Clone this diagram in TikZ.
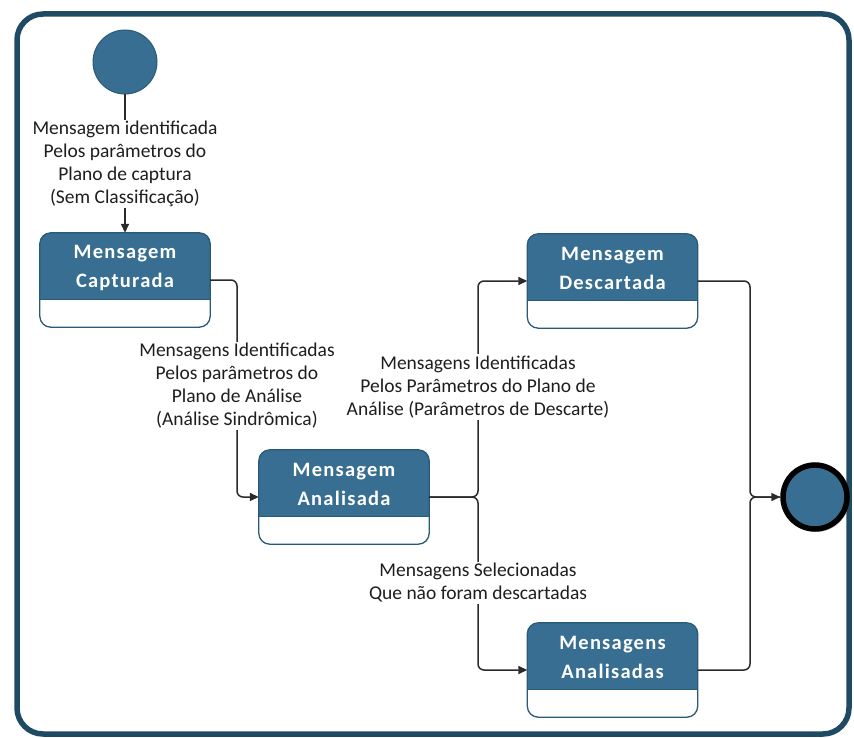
\documentclass[tikz,border=0pt]{standalone}
\usepackage{fontspec}
\setmainfont{Carlito}
\usetikzlibrary{arrows.meta,shadows,calc}

\definecolor{stateblue}{HTML}{376E91}
\definecolor{stateline}{HTML}{2B5A78}
\definecolor{frameline}{HTML}{1F4A64}
\definecolor{wirecol}{HTML}{2A2A2A}
\definecolor{labelcol}{HTML}{1E1E1E}

\tikzset{
  wire/.style={draw=wirecol, line width=1.5pt, rounded corners=6pt},
  tip/.style={-{Triangle[length=9pt,width=8pt]}},
  flowlabel/.style={fill=white, inner sep=1.5pt, align=center, text=labelcol,
    font=\fontsize{19.5}{23}\selectfont},
  statebody/.style={minimum width=170pt, minimum height=94pt, inner sep=0pt},
  statetitle/.style={text=white, align=center,
    font=\fontsize{20.5}{29}\selectfont\bfseries\addfontfeature{LetterSpace=6}},
}

% A state: rounded box with a blue header band and an empty white compartment
\newcommand{\statebox}[4]{%
  \node[statebody] (#1) at (#2) {};
  \begin{scope}
    \clip[rounded corners=11pt] (#1.north west) rectangle (#1.south east);
    \fill[stateblue] (#1.north west) rectangle ($(#1.north east)+(0,67)$);
  \end{scope}
  \draw[stateline, line width=1.3pt] ($(#1.north west)+(0,67)$) -- ($(#1.north east)+(0,67)$);
  \draw[stateline, line width=1.3pt, rounded corners=11pt] (#1.north west) rectangle (#1.south east);
  \node[statetitle] (#1-title) at ($(#1.north)+(0,35)$) {#3\\#4};
}

\begin{document}
\begin{tikzpicture}[x=1pt, y=-1pt]
  \useasboundingbox (0,0) rectangle (854,738);

  % outer frame
  \draw[frameline, line width=5.5pt, rounded corners=26pt] (17,14) rectangle (849,734);

  % initial and final pseudo-states
  \node[circle, fill=stateblue, draw=stateline, line width=1pt, minimum size=64pt, inner sep=0pt] (start) at (125,62) {};
  \node[circle, fill=stateblue, draw=black, line width=5.5pt, minimum size=64pt, inner sep=0pt,
        drop shadow={shadow xshift=2pt, shadow yshift=-3pt, opacity=0.35}] (end) at (815,497) {};

  % states
  \statebox{capt}{125,280}{Mensagem}{Capturada}
  \statebox{anal}{344,497}{Mensagem}{Analisada}
  \statebox{desc}{612.5,281}{Mensagem}{Descartada}
  \statebox{anals}{612.5,670}{Mensagens}{Analisadas}

  % junction points
  \coordinate (fork) at (478,497);
  \coordinate (merge) at (750,497);

  % transitions
  \draw[wire, tip] (start) -- (capt);
  \node[flowlabel] (l1) at (125,164) {Mensagem identificada\\Pelos parâmetros do\\Plano de captura\\(Sem Classificação)};

  \draw[wire, tip] (capt.east) -| (237,497) -- (anal.west);
  \node[flowlabel] (l2) at (237,386) {Mensagens Identificadas\\Pelos parâmetros do\\Plano de Análise\\(Análise Sindrômica)};

  \draw[wire, tip] (anal.east) -- (fork) |- (desc.west);
  \draw[wire, tip] (anal.east) -- (fork) |- (anals.west);
  \node[flowlabel] (l3) at (478,387) {Mensagens Identificadas\\Pelos Parâmetros do Plano de\\Análise (Parâmetros de Descarte)};
  \node[flowlabel] (l4) at (478,583) {Mensagens Selecionadas\\Que não foram descartadas};

  \draw[wire, tip] (desc.east) -| (merge) -- (end.west);
  \draw[wire] (anals.east) -| (merge) -- (end.west);
\end{tikzpicture}
\end{document}
